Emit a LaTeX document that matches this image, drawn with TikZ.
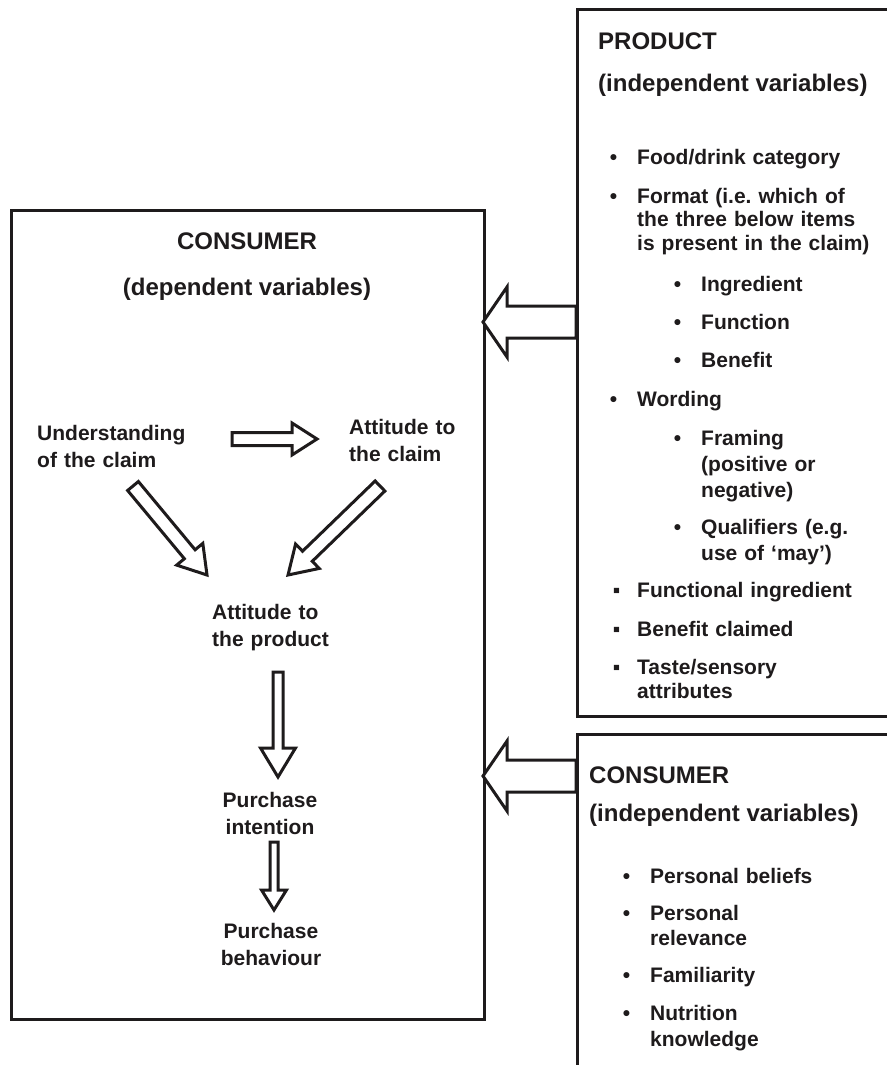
\documentclass[tikz,border=0pt]{standalone}
\usepackage{fontspec}
\setmainfont{Liberation Sans}
\usetikzlibrary{calc}
\definecolor{ink}{HTML}{1E1B1C}
% block arrow: #1 tail, #2 tip, #3 shaft half width, #4 head half width, #5 head length
\newcommand\blkarrow[5]{%
  \path ($(#2)!#5!(#1)$) coordinate (bah);
  \draw[blockline] ($(#1)!#3!90:(#2)$) -- ($(bah)!#3!90:(#2)$) -- ($(bah)!#4!90:(#2)$)
    -- (#2) -- ($(bah)!#4!-90:(#2)$) -- ($(bah)!#3!-90:(#2)$) -- ($(#1)!#3!-90:(#2)$) -- cycle;}
\newcommand\bul{\leavevmode\llap{•\hspace{20pt}}}
\newcommand\sqb{\leavevmode\llap{▪\hspace{17pt}}}
\begin{document}
\begin{tikzpicture}[x=1pt,y=-1pt,
  box/.style={draw=ink,line width=2.8pt,inner sep=0pt,anchor=north west},
  blockline/.style={draw=ink,line width=3pt,fill=white,line join=miter,miter limit=10},
  hdr/.style={text=ink,inner sep=0pt,font=\bfseries\fontsize{24}{28}\selectfont},
  txt/.style={text=ink,inner sep=0pt,font=\bfseries\fontsize{21}{25}\selectfont,text width=250pt,align=left,anchor=base west},
  ltxt/.style={text=ink,inner sep=0pt,font=\bfseries\fontsize{21}{27}\selectfont,text width=200pt,align=left,anchor=base west},
  ctxt/.style={text=ink,inner sep=0pt,font=\bfseries\fontsize{21}{27}\selectfont,text width=150pt,align=center,anchor=base}]
\useasboundingbox[fill=white] (0,0) rectangle (886,1065);

% boxes
\node[box,minimum width=473pt,minimum height=809pt] (lbox) at (10,209) {};
\node[box,minimum width=340pt,minimum height=707pt] (pbox) at (576,8) {};
\node[box,minimum width=340pt,minimum height=360pt] (cbox) at (576,733) {};

% left box (dependent variables)
\node[hdr,anchor=base] (lh1) at (247,249) {CONSUMER};
\node[hdr,anchor=base] (lh2) at (247,295) {(dependent variables)};
\node[ltxt] (und) at (37,440) {Understanding\\of the claim};
\node[ltxt] (attc) at (349,434) {Attitude to\\the claim};
\node[ltxt] (attp) at (212,619) {Attitude to\\the product};
\node[ctxt] (pint) at (270,807) {Purchase\\intention};
\node[ctxt] (pbeh) at (271,938) {Purchase\\behaviour};

\coordinate (h1) at (232,439); \coordinate (h2) at (317,439);
\blkarrow{h1}{h2}{6.5pt}{16pt}{25pt}
\coordinate (d1a) at (133,486); \coordinate (d1b) at (207,575);
\blkarrow{d1a}{d1b}{7pt}{17pt}{27pt}
\coordinate (d2a) at (380,486); \coordinate (d2b) at (288,575);
\blkarrow{d2a}{d2b}{7pt}{17pt}{27pt}
\coordinate (v1a) at (278,672); \coordinate (v1b) at (278,777);
\blkarrow{v1a}{v1b}{5pt}{17.5pt}{29pt}
\coordinate (v2a) at (274,842); \coordinate (v2b) at (274,910);
\blkarrow{v2a}{v2b}{4pt}{12.5pt}{20pt}

% big arrows from right boxes
\coordinate (b1a) at (576,322); \coordinate (b1b) at (483,322);
\blkarrow{b1a}{b1b}{16pt}{35pt}{24pt}
\coordinate (b2a) at (576,776); \coordinate (b2b) at (483,776);
\blkarrow{b2a}{b2b}{16pt}{35pt}{24pt}

% product box
\node[hdr,anchor=base west] (ph1) at (598,50) {PRODUCT};
\node[hdr,anchor=base west] (ph2) at (598,91) {(independent variables)};
\node[txt] (p1) at (637,164) {\bul Food/drink category};
\node[txt,font=\bfseries\fontsize{21}{23.5}\selectfont] (p2) at (637,203) {\bul Format (i.e.\ which of\\the three below items\\is present in the claim)};
\node[txt] (p3) at (701,291) {\bul Ingredient};
\node[txt] (p4) at (701,329) {\bul Function};
\node[txt] (p5) at (701,367) {\bul Benefit};
\node[txt] (p6) at (637,406) {\bul Wording};
\node[txt,font=\bfseries\fontsize{21}{26}\selectfont] (p7) at (701,445) {\bul Framing\\(positive or\\negative)};
\node[txt,font=\bfseries\fontsize{21}{26}\selectfont] (p8) at (701,534) {\bul Qualifiers (e.g.\\use of ‘may’)};
\node[txt] (p9) at (637,597) {\sqb Functional ingredient};
\node[txt] (p10) at (637,636) {\sqb Benefit claimed};
\node[txt,font=\bfseries\fontsize{21}{24}\selectfont] (p11) at (637,674) {\sqb Taste/sensory\\attributes};

% consumer box (independent variables)
\node[hdr,anchor=base west] (ch1) at (589,783) {CONSUMER};
\node[hdr,anchor=base west] (ch2) at (589,821) {(independent variables)};
\node[txt] (c1) at (650,883) {\bul Personal beliefs};
\node[txt] (c2) at (650,920) {\bul Personal\\relevance};
\node[txt] (c3) at (650,982) {\bul Familiarity};
\node[txt,font=\bfseries\fontsize{21}{26}\selectfont] (c4) at (650,1020) {\bul Nutrition\\knowledge};
\end{tikzpicture}
\end{document}
